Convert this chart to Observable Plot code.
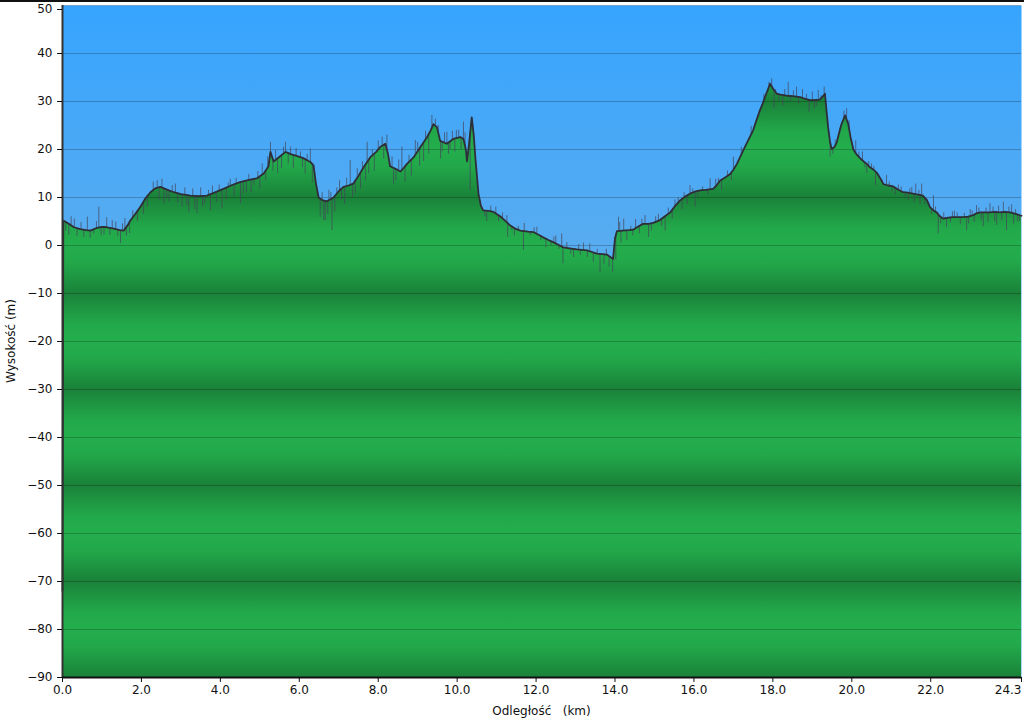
<!DOCTYPE html>
<html><head><meta charset="utf-8">
<script src="https://cdn.jsdelivr.net/npm/d3@7"></script>
<script src="https://cdn.jsdelivr.net/npm/@observablehq/plot@0.6"></script>
<style>
html,body{margin:0;padding:0;background:#fff;}
#chart{position:relative;width:1024px;height:722px;overflow:hidden;}
#topbar{position:absolute;left:0;top:0;width:1024px;height:2px;background:#111;}
</style></head><body>
<div id="chart"><div id="topbar"></div></div>
<script>
// Distance (km) and elevation (m) of the smoothed profile
const baseKm = [0.00,0.02,0.15,0.29,0.45,0.60,0.71,0.85,1.00,1.13,1.30,1.45,1.55,1.65,1.72,1.85,1.97,2.10,2.23,2.35,2.48,2.60,2.82,3.00,3.24,3.45,3.66,3.85,4.08,4.30,4.50,4.70,4.93,5.10,5.22,5.27,5.35,5.50,5.65,5.80,5.95,6.10,6.28,6.36,6.42,6.49,6.60,6.70,6.87,7.00,7.12,7.25,7.37,7.50,7.63,7.80,7.95,8.05,8.18,8.25,8.30,8.48,8.56,8.65,8.73,8.90,9.07,9.24,9.33,9.40,9.49,9.57,9.74,9.90,10.08,10.16,10.22,10.25,10.30,10.37,10.42,10.46,10.54,10.60,10.66,10.80,10.92,11.09,11.20,11.34,11.47,11.60,11.80,11.93,12.05,12.18,12.30,12.43,12.55,12.69,12.85,13.03,13.15,13.29,13.40,13.54,13.68,13.79,13.88,13.95,14.00,14.05,14.20,14.35,14.46,14.60,14.71,14.85,14.97,15.14,15.25,15.40,15.52,15.65,15.78,15.90,16.05,16.16,16.30,16.49,16.58,16.66,16.80,16.92,17.00,17.09,17.17,17.25,17.38,17.50,17.58,17.67,17.74,17.80,17.87,17.93,18.01,18.10,18.22,18.35,18.50,18.69,18.80,18.94,19.05,19.19,19.26,19.32,19.36,19.40,19.45,19.49,19.56,19.62,19.68,19.74,19.83,19.91,19.97,20.04,20.12,20.21,20.30,20.38,20.46,20.55,20.63,20.72,20.80,20.92,21.05,21.18,21.30,21.42,21.55,21.68,21.80,21.90,21.98,22.07,22.15,22.22,22.31,22.45,22.56,22.70,22.82,22.95,23.07,23.16,23.25,23.40,23.50,23.62,23.75,23.88,24.01,24.15,24.26,24.30];
const baseElev = [-72,5.2,4.6,3.8,3.4,3.2,3.1,3.6,3.9,3.8,3.5,3.2,3.1,4.2,5.2,6.6,8.0,9.8,11.1,11.9,12.2,11.8,11.1,10.7,10.4,10.3,10.4,11.0,11.8,12.6,13.2,13.6,14.0,15.0,16.5,19.5,17.5,18.5,19.5,19.0,18.6,18.2,17.4,16.7,13.0,10.0,9.4,9.2,10.0,11.3,12.2,12.5,12.9,14.5,16.3,18.4,19.5,20.5,21.2,19.0,16.5,15.8,15.4,16.2,17.0,18.4,20.5,22.6,24.0,25.3,24.6,21.8,21.2,22.2,22.6,22.2,20.0,17.5,21.0,26.7,23.0,18.4,10.8,8.3,7.3,7.2,7.0,6.1,5.3,4.2,3.5,3.1,2.9,2.8,2.3,1.7,1.2,0.7,0.2,-0.4,-0.6,-0.8,-0.9,-1.0,-1.3,-1.7,-1.8,-1.9,-2.4,-2.8,1.5,3.0,3.1,3.2,3.3,4.0,4.5,4.5,4.7,5.3,6.0,6.9,8.2,9.4,10.2,10.8,11.3,11.5,11.6,11.8,12.6,13.5,14.2,14.9,15.8,17.0,18.4,19.8,22.0,24.0,26.0,28.1,29.5,30.9,32.4,33.7,32.6,31.6,31.4,31.2,31.1,30.9,30.6,30.3,30.3,30.4,31.0,31.6,28.0,24.6,21.5,20.1,20.5,21.5,23.5,25.3,27.1,25.3,22.5,20.0,19.0,18.2,17.5,17.0,16.3,15.8,15.2,14.0,12.8,12.5,12.3,11.6,11.1,11.0,10.8,10.6,10.4,9.5,8.0,7.3,6.9,6.2,5.6,5.8,5.9,5.9,5.9,6.0,6.3,6.7,6.9,6.9,6.9,7.0,6.9,7.0,6.9,6.6,6.3,6.2];
// GPS noise spikes (km, m)
const spikeKm = [0.08,0.16,0.22,0.30,0.37,0.47,0.54,0.63,0.70,0.79,0.86,0.92,0.98,1.05,1.12,1.20,1.26,1.35,1.40,1.47,1.52,1.58,1.62,1.70,1.78,1.90,
  2.05,2.15,2.30,2.40,2.45,2.52,2.57,2.64,2.70,2.78,2.86,2.92,3.03,3.10,3.15,3.20,3.30,3.35,3.41,3.50,3.55,3.60,3.70,3.75,3.80,3.90,3.97,4.04,4.15,4.20,4.25,4.35,4.40,4.51,4.58,4.66,4.72,4.78,4.85,4.95,5.00,5.06,5.15,
  5.20,5.27,5.33,5.40,5.45,5.55,5.60,5.65,5.72,5.78,5.85,5.92,6.03,6.08,6.15,6.20,6.28,6.33,
  6.53,6.58,6.62,6.66,6.72,6.75,6.80,6.83,6.90,6.95,7.02,7.07,7.15,7.20,7.29,7.35,7.42,7.47,7.55,7.60,7.68,7.72,7.76,7.85,7.90,8.00,8.10,8.14,8.22,
  8.35,8.39,8.45,8.52,8.60,8.68,8.78,8.84,8.94,9.00,9.05,9.15,9.20,9.28,9.36,9.45,9.52,9.58,9.62,9.68,9.74,9.78,9.82,9.88,9.94,9.98,10.04,10.10,10.16,10.20,10.33,
  10.58,10.70,10.75,10.85,10.98,11.05,11.15,11.26,11.28,11.38,11.45,11.55,11.68,11.70,11.85,11.95,12.02,12.12,12.25,12.38,12.45,12.50,12.58,12.65,12.68,12.78,12.88,12.95,13.08,13.12,13.20,13.30,13.36,13.45,13.55,13.62,13.72,13.78,13.85,13.94,
  14.02,14.09,14.12,14.15,14.22,14.30,14.40,14.45,14.52,14.62,14.68,14.76,14.85,14.92,15.03,15.10,15.18,15.27,15.35,15.45,15.52,15.60,15.70,15.75,15.83,15.90,15.97,16.03,16.10,16.22,16.35,16.41,
  16.55,16.62,16.70,16.85,16.95,17.00,17.12,17.20,17.30,17.45,17.62,17.77,17.90,17.97,
  18.03,18.07,18.15,18.25,18.30,18.39,18.45,18.52,18.60,18.65,18.75,18.85,18.92,19.00,19.05,19.10,19.15,19.22,19.30,
  19.45,19.52,19.58,19.70,19.80,19.87,19.93,20.00,20.10,20.18,20.27,20.33,20.38,20.43,20.50,20.56,20.60,20.68,20.78,20.88,20.95,21.02,21.10,21.18,21.25,21.35,
  21.43,21.47,21.52,21.58,21.62,21.70,21.73,21.77,21.85,21.95,22.02,22.07,22.12,22.19,22.25,22.33,22.40,22.50,22.55,22.60,22.67,22.75,22.85,22.91,22.96,23.00,23.05,23.10,23.16,23.22,23.28,23.33,23.40,23.45,23.50,23.58,23.62,23.67,23.72,23.80,23.84,23.92,23.98,24.05,24.10,24.15,24.20,24.25];
const spikeElev = [3.0,2.1,6.0,5.5,1.9,4.8,1.7,5.9,1.5,2.4,5.0,8.0,2.0,2.2,5.8,2.1,5.2,4.9,1.8,0.4,4.5,5.6,2.0,2.5,7.2,5.0,
  6.5,8.0,13.2,13.5,9.5,13.8,8.7,9.8,9.0,12.5,12.8,8.8,8.0,12.0,8.3,6.9,11.8,7.5,6.6,12.0,8.0,8.6,11.5,7.2,12.4,9.0,12.6,7.6,9.5,13.0,13.8,10.2,14.0,8.7,10.8,11.0,14.8,11.0,12.5,15.4,11.8,17.0,13.5,
  18.5,21.5,15.5,19.8,15.0,16.0,20.5,21.5,17.0,20.5,16.0,20.2,19.5,16.2,14.9,19.0,20.1,13.0,
  5.9,11.0,5.2,5.2,6.5,11.5,11.0,3.1,7.0,12.0,13.5,9.5,8.5,14.0,17.7,10.0,10.8,16.0,11.8,17.5,13.5,21.5,15.0,20.0,15.5,21.8,22.6,18.0,23.0,
  18.5,12.8,13.5,17.8,20.5,13.2,18.8,14.5,21.9,21.5,16.5,17.5,23.8,19.0,27.1,26.3,25.0,18.0,19.5,23.5,23.6,19.0,20.0,23.8,19.5,24.0,24.0,20.0,25.7,23.5,11.5,
  9.5,6.0,5.0,8.2,8.0,5.0,6.8,6.25,1.7,3.2,2.0,4.0,-1.0,4.6,2.0,3.7,3.8,1.0,-0.5,0.0,1.8,2.0,-0.8,2.4,-3.8,0.6,-1.8,-2.5,0.2,-2.0,0.5,-2.5,0.3,-3.5,-0.8,-5.6,-4.0,-0.8,-4.5,-5.6,
  -3.0,5.9,4.8,0.5,5.5,1.0,4.0,2.0,5.4,2.5,5.5,6.25,1.7,3.0,6.0,6.5,4.0,3.0,7.8,5.5,9.5,10.0,7.5,11.0,8.5,12.5,11.8,8.0,10.0,12.2,10.5,13.9,
  13.8,14.0,11.5,15.5,13.5,18.4,17.8,20.5,20.5,24.8,26.8,31.5,34.0,34.7,
  28.5,32.5,30.0,29.0,32.5,34.0,30.0,32.2,33.0,29.5,32.5,31.5,27.8,32.0,28.5,29.0,32.3,31.2,33.0,
  18.4,19.0,22.0,24.5,28.0,28.5,26.0,21.0,21.8,19.5,19.5,16.2,15.0,17.5,17.0,16.5,12.5,14.8,13.5,14.6,13.2,11.2,10.5,12.6,12.2,10.0,
  9.4,11.8,12.1,9.0,12.8,11.5,8.5,12.8,8.5,9.0,6.5,10.4,8.0,2.4,4.5,6.8,3.7,4.8,7.0,7.2,6.8,4.3,6.7,3.1,4.5,7.5,7.2,4.8,8.3,7.8,5.2,3.9,7.8,4.8,8.7,8.0,5.0,4.2,8.2,5.2,9.0,3.1,8.0,8.5,4.5,7.5,5.0,5.0];
const xTicks = [0,2,4,6,8,10,12,14,16,18,20,22];
const xEndTick = [24.3];
const yTicks = [40,30,20,10,0,-10,-20,-30,-40,-50,-60,-70,-80,-90];
const yTopTick = [50];
const xLabel = "Odległość   (km)";
const yLabel = "Wysokość (m)";

const base = baseKm.map((k, i) => ({km: k, elev: baseElev[i]}));
// anchor each spike on the profile line at its own distance
const bis = d3.bisector(d => d.km).left;
function profileAt(k) {
  const i = Math.min(Math.max(bis(base, k), 1), base.length - 1);
  const a = base[i - 1], b = base[i];
  const t = (k - a.km) / (b.km - a.km);
  return a.elev + t * (b.elev - a.elev);
}
const spikes = spikeKm.map((k, i) => ({km: k, elev: spikeElev[i], from: profileAt(k)}));

const plot = Plot.plot({
  width: 1024, height: 722,
  marginLeft: 62, marginTop: 5, marginRight: 3, marginBottom: 45,
  style: {fontFamily: "'DejaVu Sans', Verdana, sans-serif", fontSize: "12px", color: "#111", background: "transparent"},
  x: {domain: [0, 24.3], label: null},
  y: {domain: [-90, 50], label: null},
  marks: [
    Plot.frame({fill: "url(#skyGrad)", stroke: "none"}),
    Plot.areaY(base, {x: "km", y1: -90, y2: "elev", fill: "url(#greenGrad)"}),
    Plot.gridY(yTicks.concat(yTopTick), {stroke: "#000", strokeOpacity: 0.22, strokeWidth: 1}),
    Plot.ruleX(spikes, {x: "km", y1: "from", y2: "elev", stroke: "#45455a", strokeOpacity: 0.7, strokeWidth: 1}),
    Plot.lineY(base, {x: "km", y: "elev", stroke: "#2e2e38", strokeWidth: 1.8}),
    Plot.ruleX([0], {stroke: "#333", strokeWidth: 2}),
    Plot.ruleY([-90], {stroke: "#111", strokeWidth: 2}),
    Plot.axisX({ticks: xTicks, tickFormat: d3.format(".1f"), tickSize: 5, tickPadding: 3, label: null, stroke: "#111"}),
    Plot.axisX({ticks: xEndTick, tickFormat: d3.format(".1f"), tickSize: 5, tickPadding: 3, label: null, stroke: "#111", textAnchor: "end"}),
    Plot.axisY({ticks: yTicks, tickSize: 5, tickPadding: 5, label: null, stroke: "#111"}),
    Plot.axisY({ticks: yTopTick, tickSize: 5, tickPadding: 5, label: null, stroke: "#111", dy: 4})
  ]
});

// gradients for the sky and ground bands, positioned via the y scale
const ys = plot.scale("y");
const y0 = ys.apply(0), y20 = ys.apply(-20), yTop = ys.apply(50);
const NS = "http://www.w3.org/2000/svg";
const defs = document.createElementNS(NS, "defs");
function grad(id, y1, y2, stops, spread) {
  const g = document.createElementNS(NS, "linearGradient");
  g.setAttribute("id", id);
  g.setAttribute("gradientUnits", "userSpaceOnUse");
  g.setAttribute("x1", 0); g.setAttribute("x2", 0);
  g.setAttribute("y1", y1); g.setAttribute("y2", y2);
  if (spread) g.setAttribute("spreadMethod", spread);
  for (const [o, c] of stops) {
    const s = document.createElementNS(NS, "stop");
    s.setAttribute("offset", o); s.setAttribute("stop-color", c);
    g.appendChild(s);
  }
  defs.appendChild(g);
}
grad("skyGrad", yTop, y0, [[0, "#36a4fe"], [1, "#58acf0"]], "pad");
grad("greenGrad", y0, y20, [[0, "#24ae4d"], [0.18, "#22a84a"], [0.5, "#1a8239"], [0.82, "#22a84a"], [1, "#24ae4d"]], "repeat");
plot.insertBefore(defs, plot.firstChild);

// axis titles
const xr = plot.scale("x").range;
const yr = ys.range;
const tx = document.createElementNS(NS, "text");
tx.setAttribute("x", (xr[0] + xr[1]) / 2);
tx.setAttribute("y", 715);
tx.setAttribute("text-anchor", "middle");
tx.setAttribute("fill", "#111");
tx.setAttribute("style", "white-space:pre");
tx.textContent = xLabel;
plot.appendChild(tx);
const ty = document.createElementNS(NS, "text");
const cy = (yr[0] + yr[1]) / 2;
ty.setAttribute("transform", `translate(15,${cy}) rotate(-90)`);
ty.setAttribute("text-anchor", "middle");
ty.setAttribute("fill", "#111");
ty.textContent = yLabel;
plot.appendChild(ty);

document.getElementById("chart").appendChild(plot);
</script>
</body></html>
